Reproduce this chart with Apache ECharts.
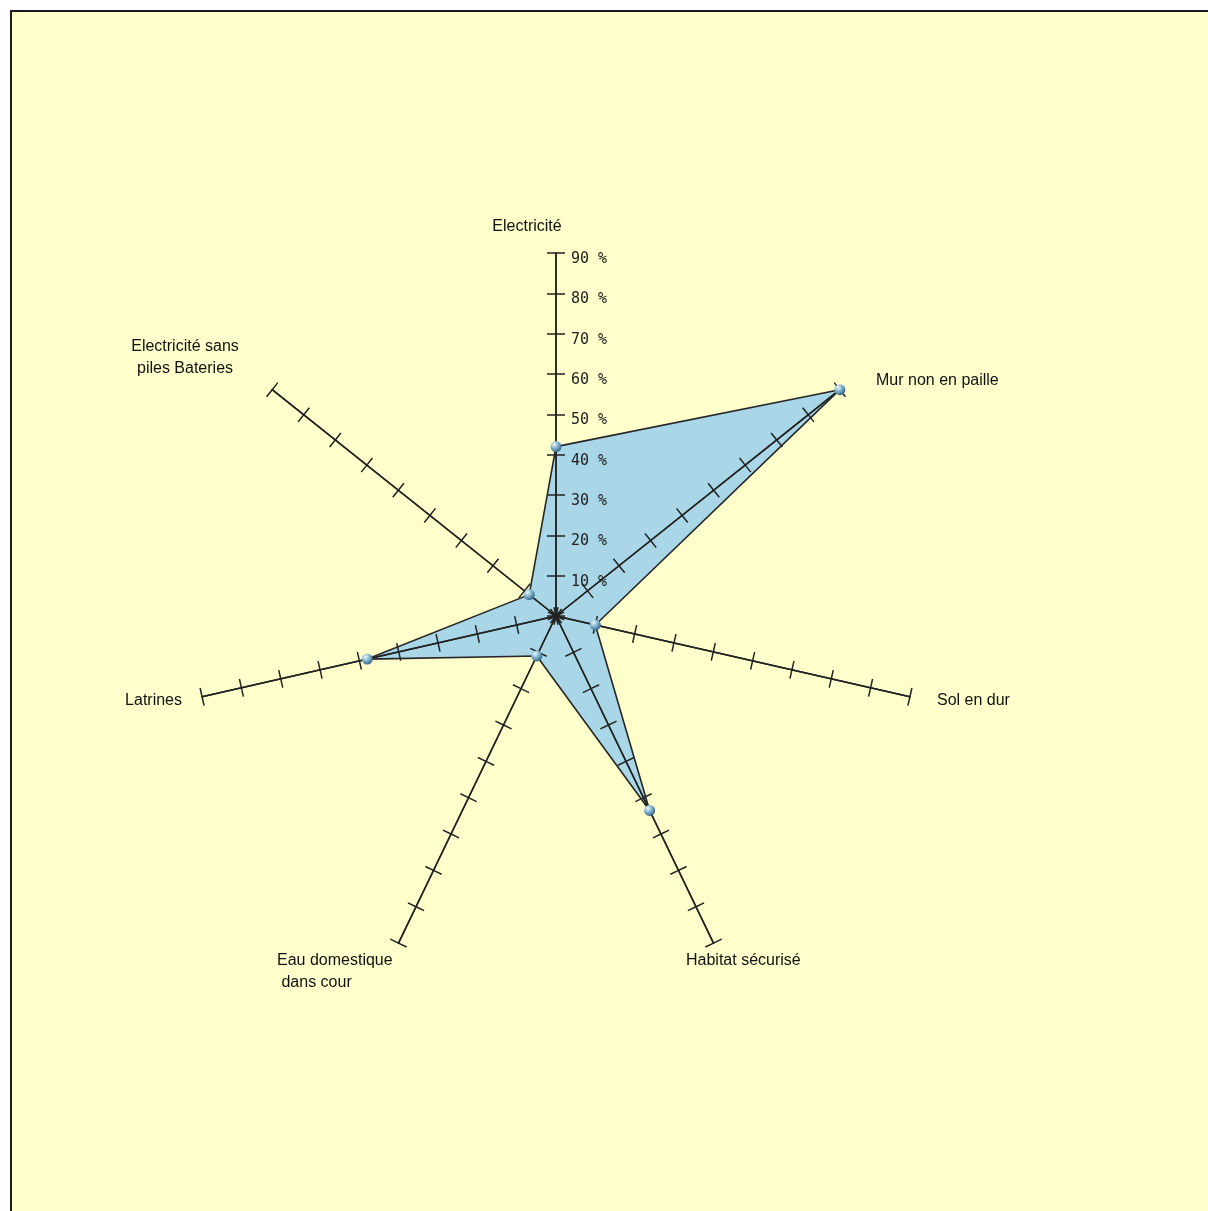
<!DOCTYPE html>
<html>
<head>
<meta charset="utf-8">
<script src="https://cdn.jsdelivr.net/npm/echarts@6/dist/echarts.min.js"></script>
<style>
  html, body { margin: 0; padding: 0; background: #ffffff; }
  #frame { position: absolute; left: 10px; top: 10px; width: 1198px; height: 1201px;
           background: #ffffcc; border-left: 2px solid #1a1a1a; border-top: 2px solid #1a1a1a; box-sizing: border-box; }
  #chart { position: absolute; left: 0; top: 0; width: 1208px; height: 1211px; }
</style>
</head>
<body>
<div id="frame"></div>
<div id="chart"></div>
<script>
// Categories listed clockwise starting from the top axis
const categories = ['Electricité', 'Mur non en paille', 'Sol en dur', 'Habitat sécurisé',
                    'Eau domestique\n dans cour', 'Latrines', 'Electricité sans\npiles Bateries'];
const values = [42, 90, 10, 53.5, 11, 48, 8.5];
const axisMax = 90;
const tickStep = 10;

// ECharts radar places indicators counter-clockwise; reorder to keep the clockwise layout
const order = [0, 6, 5, 4, 3, 2, 1];
const indicators = order.map(i => ({ name: categories[i], max: axisMax, min: 0 }));
const seriesValues = order.map(i => values[i]);

const CX = 556, CY = 616, R = 363;
const axisColor = '#222222';

function radarBase(tickLen) {
  return {
    center: [CX, CY],
    radius: R,
    startAngle: 90,
    splitNumber: axisMax / tickStep,
    indicator: indicators,
    shape: 'polygon',
    z: 3,
    axisName: { show: false },
    splitLine: { show: false },
    splitArea: { show: false },
    axisLine: { show: true, lineStyle: { color: axisColor, width: 1.5 } },
    axisTick: { show: true, inside: false, length: tickLen, lineStyle: { color: axisColor, width: 1.5 } },
    axisLabel: { show: false }
  };
}

const nameStyle = { fontFamily: 'Liberation Sans, Arial, sans-serif', fontSize: 16, fill: '#111111' };
const namePos = [
  { x: 527, y: 227, align: 'center' },
  { x: 876, y: 381, align: 'left' },
  { x: 937, y: 701, align: 'left' },
  { x: 686, y: 961, align: 'left' },
  { x: 277, y: 961, align: 'left' },
  { x: 182, y: 701, align: 'right' },
  { x: 185, y: 347, align: 'center' }
];
const graphics = categories.map((c, i) => ({
  type: 'text',
  x: namePos[i].x, y: namePos[i].y,
  z: 10,
  style: Object.assign({}, nameStyle, {
    text: c, align: namePos[i].align, verticalAlign: 'middle', lineHeight: 22
  })
}));
// multi-line labels: anchor first line at given y
graphics[4].style.verticalAlign = 'top'; graphics[4].y = 950;
graphics[6].style.verticalAlign = 'top'; graphics[6].y = 336;

const option = {
  backgroundColor: 'transparent',
  animation: false,
  radar: [radarBase(9), radarBase(-9)],
  polar: { center: [CX, CY], radius: R },
  angleAxis: { type: 'value', startAngle: 90, min: 0, max: 360, show: false },
  radiusAxis: {
    type: 'value', min: 0, max: axisMax, interval: tickStep, z: 4,
    axisLine: { show: false }, axisTick: { show: false }, splitLine: { show: false },
    axisLabel: {
      show: true, showMinLabel: false, margin: -15, align: 'left', verticalAlign: 'top',
      lineHeight: 12,
      formatter: v => v + ' %',
      fontFamily: 'DejaVu Sans Mono, monospace', fontSize: 15, color: '#222222'
    }
  },
  graphic: graphics,
  series: [
    {
      type: 'radar', radarIndex: 0, z: 1,
      symbol: 'none',
      lineStyle: { width: 0, opacity: 0 },
      areaStyle: { color: '#a9d7e7', opacity: 1 },
      data: [{ value: seriesValues }]
    },
    {
      type: 'radar', radarIndex: 0, z: 6,
      symbol: 'circle', symbolSize: 11,
      lineStyle: { color: '#262626', width: 1.6 },
      itemStyle: {
        color: {
          type: 'radial', x: 0.35, y: 0.3, r: 0.75,
          colorStops: [{ offset: 0, color: '#eef8fc' }, { offset: 0.5, color: '#7fb0cc' }, { offset: 1, color: '#2f5f7f' }]
        },
        borderWidth: 0
      },
      data: [{ value: seriesValues }]
    }
  ]
};

const chart = echarts.init(document.getElementById('chart'), null, { renderer: 'canvas' });
chart.setOption(option);
</script>
</body>
</html>
